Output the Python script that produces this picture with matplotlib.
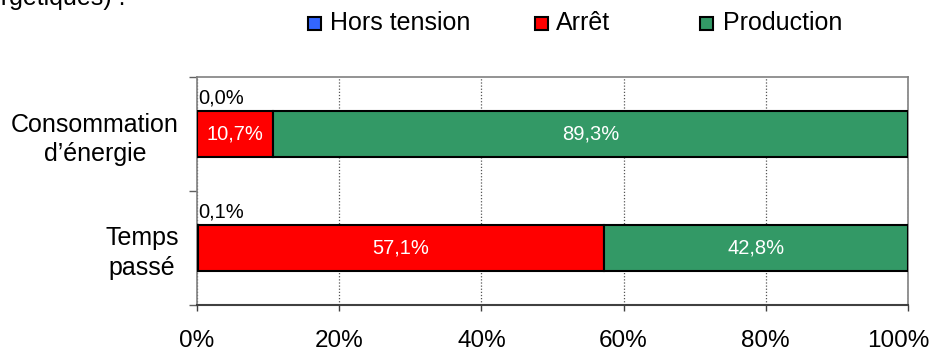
import numpy as np
import matplotlib.pyplot as plt
from matplotlib.patches import Rectangle
from matplotlib.transforms import ScaledTranslation

plt.rcParams['font.family'] = ['Liberation Sans', 'DejaVu Sans']

# stacked shares, in percent
categories = ['Consommation\nd\u2019énergie', 'Temps\npassé']
series_names = ['Hors tension', 'Arrêt', 'Production']
hors_tension = [0.0, 0.1]
arret = [10.7, 57.1]
production = [89.3, 42.8]
colors = ['#3366FF', '#FF0000', '#339966']
xticks = [0, 20, 40, 60, 80, 100]


def fmt(v):
    return ('%.1f%%' % v).replace('.', ',')


W, H = 934, 352
fig = plt.figure(figsize=(W / 100, H / 100), dpi=100)
ax = fig.add_axes([197 / W, 1 - 305 / H, 711 / W, 228 / H])

ypos = np.arange(len(categories))[::-1]  # first category on top
bar_h = 0.41
left = np.zeros(len(categories))
for name, vals, col in zip(series_names, [hors_tension, arret, production], colors):
    vals = np.array(vals)
    ax.barh(ypos, vals, height=bar_h, left=left, color=col,
            edgecolor='black', linewidth=1.5, label=name, zorder=3)
    for y, l, v in zip(ypos, left, vals):
        if name == 'Hors tension':
            ax.annotate(fmt(v), (l, y + bar_h / 2), xytext=(1, 2.5),
                        textcoords='offset points', ha='left', va='bottom',
                        fontsize=14.5, color='black')
        else:
            ax.text(l + v / 2, y, fmt(v), ha='center', va='center',
                    fontsize=14.5, color='white', zorder=4)
    left = left + vals

ax.set_xlim(0, 100)
ax.set_ylim(-0.5, 1.5)
ax.set_xticks(xticks)
ax.set_xticklabels(['%d%%' % t for t in xticks])
ax.tick_params(axis='x', labelsize=17.5, length=4, width=1, pad=14,
               color='#404040')
# pull the last label inside the canvas
last = ax.get_xticklabels()[-1]
last.set_transform(last.get_transform()
                   + ScaledTranslation(-10 / 100, 0, fig.dpi_scale_trans))

ax.set_yticks(ypos)
ax.set_yticklabels(categories, multialignment='center', linespacing=1.3)
ax.set_yticks([-0.5, 0.5, 1.5], minor=True)
ax.tick_params(axis='y', which='major', length=0, labelsize=18, pad=13)
ax.tick_params(axis='y', which='minor', length=6, width=1, color='#606060')

ax.grid(axis='x', linestyle=(0, (1, 1.5)), color='#555555', linewidth=0.9,
        zorder=0)
for side in ['top', 'right', 'left']:
    ax.spines[side].set_color('#808080')
    ax.spines[side].set_linewidth(1.2)
ax.spines['bottom'].set_color('#404040')
ax.spines['bottom'].set_linewidth(1.5)

# legend row drawn as separate swatches
legend_x = [(308, 330), (535, 556), (700, 723)]
for (mx, tx), name, col in zip(legend_x, series_names, colors):
    fig.patches.append(Rectangle((mx / W, 1 - 30 / H), 13 / W, 13 / H,
                                 transform=fig.transFigure, facecolor=col,
                                 edgecolor='black', linewidth=1.5))
    fig.text(tx / W, 1 - 23 / H, name, fontsize=18, ha='left',
             va='center')

# tail of the sentence preceding the chart
fig.text(-41 / W, 1 - 5 / H, 'énergétiques) :', fontsize=18, ha='left',
         va='baseline')

fig.savefig('out.png', dpi=100)
